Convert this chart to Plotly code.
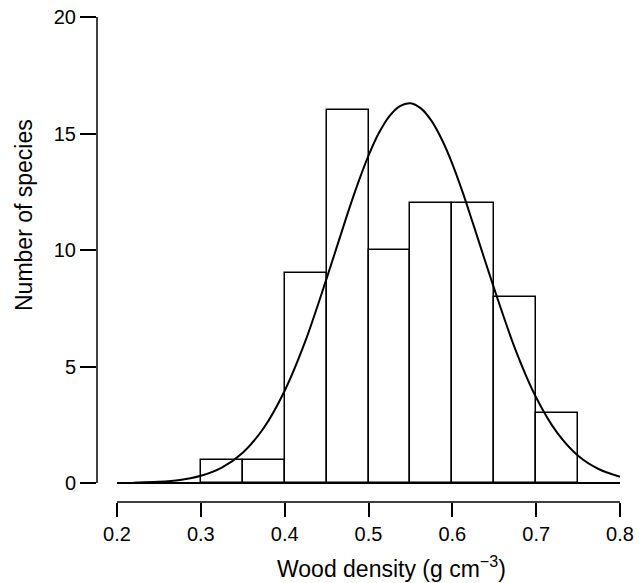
import plotly.graph_objects as go

# Histogram data (bin left edges, counts)
bin_left = [0.30, 0.35, 0.40, 0.45, 0.50, 0.55, 0.60, 0.65, 0.70]
counts = [1, 1, 9, 16, 10, 12, 12, 8, 3]
bin_width = 0.05

# Fitted normal curve
curve_x = [0.22, 0.225, 0.25, 0.275, 0.30, 0.325, 0.35, 0.375, 0.40, 0.425, 0.45, 0.475,
           0.4875, 0.50, 0.5125, 0.525, 0.5375, 0.55, 0.5625, 0.575, 0.5875, 0.60, 0.6125,
           0.625, 0.65, 0.675, 0.70, 0.725, 0.75, 0.775, 0.80]
curve_y = [0.01, 0.02, 0.05, 0.13, 0.31, 0.66, 1.30, 2.36, 3.96, 6.12, 8.77, 11.56,
           12.87, 14.05, 15.03, 15.75, 16.18, 16.30, 16.08, 15.55, 14.74, 13.70, 12.46,
           11.10, 8.33, 5.75, 3.67, 2.16, 1.17, 0.59, 0.27]

x_ticks = [0.2, 0.3, 0.4, 0.5, 0.6, 0.7, 0.8]
y_ticks = [0, 5, 10, 15, 20]

FONT = "Arial, Liberation Sans, sans-serif"

W, H = 644, 583
L, T, B = 97, 17, 502
PW = 533
PH = B - T

fig = go.Figure()
fig.add_trace(go.Bar(
    x=[b + bin_width / 2 for b in bin_left], y=counts, width=bin_width,
    marker=dict(color="white", line=dict(color="black", width=1.5)),
    hoverinfo="skip"))
fig.add_trace(go.Scatter(
    x=curve_x, y=curve_y, mode="lines",
    line=dict(color="black", width=2, shape="spline", smoothing=0.8),
    hoverinfo="skip", cliponaxis=False))

px_per_unit = 503 / 0.6
x_range = [0.2 - 20 / px_per_unit, 0.8 + 10 / px_per_unit]

fig.update_layout(
    width=W, height=H,
    margin=dict(l=L, r=W - L - PW, t=T, b=H - B),
    plot_bgcolor="white", paper_bgcolor="white",
    showlegend=False, bargap=0,
    font=dict(family=FONT, size=20, color="black"),
    xaxis=dict(range=x_range, tickvals=x_ticks, ticktext=[f"{v:.1f}" for v in x_ticks],
               ticks="outside", ticklen=14, tickwidth=1.5, tickcolor="black",
               showgrid=False, zeroline=False, showline=False, automargin=False,
               tickfont=dict(size=20)),
    yaxis=dict(range=[-19 / 23.3, 20], tickvals=y_ticks,
               ticks="outside", ticklen=16, tickwidth=1.5, tickcolor="black",
               showgrid=False, zeroline=False, showline=False, automargin=False,
               tickfont=dict(size=20)),
    shapes=[
        dict(type="line", xref="x", yref="y", x0=0.2, x1=0.8, y0=0, y1=0,
             line=dict(color="black", width=2)),
        dict(type="line", xref="x", yref="paper", x0=0.2, x1=0.8, y0=0, y1=0,
             line=dict(color="black", width=1.5)),
        dict(type="line", xref="paper", yref="y", x0=0, x1=0, y0=0, y1=20,
             line=dict(color="black", width=1.5)),
    ],
    annotations=[
        dict(text="Number of species", xref="paper", yref="paper",
             x=(24 - L) / PW, y=(B - 215) / PH, textangle=-90,
             showarrow=False, xanchor="center", yanchor="middle", font=dict(size=23)),
        dict(text="Wood density (g cm<sup>\u22123</sup>)", xref="paper", yref="paper",
             x=(391 - L) / PW, y=-(567 - B) / PH,
             showarrow=False, xanchor="center", yanchor="middle", font=dict(size=23)),
    ],
)

fig.write_html("out.html", config={"displayModeBar": False},
               post_script="document.body.style.margin='0';document.body.style.overflow='hidden';")
